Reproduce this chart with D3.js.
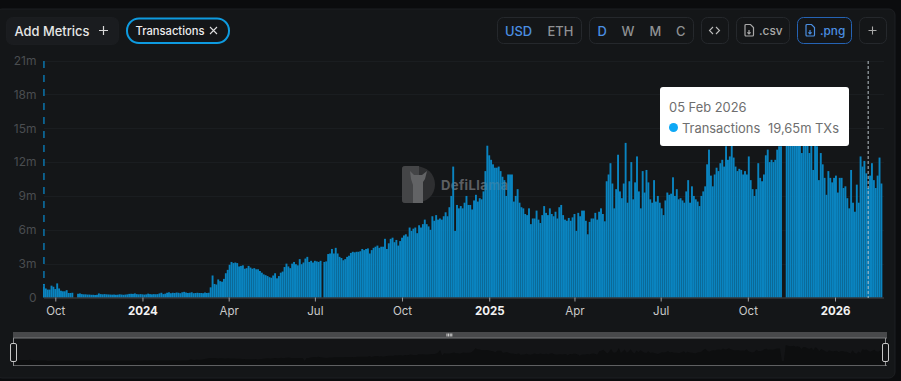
<!DOCTYPE html>
<html>
<head>
<meta charset="utf-8">
<script src="https://cdn.jsdelivr.net/npm/d3@7"></script>
<style>
  html, body { margin: 0; padding: 0; background: #0b0c0e; overflow: hidden; }
  svg { display: block; font-family: Inter, "Noto Sans", sans-serif; }
</style>
</head>
<body>
<div class="container"></div>
<script>
const WIDTH = 901;
const HEIGHT = 381;

// transactions in millions, one reading per two days
var values2023 = [1.2,0.8,0.7,0.7,1.05,0.95,0.75,1.25,0.8,0.6,0.55,0.55,0.65,0.4,0.4,0.42,0,0,
  0.33,0.36,0.3,0.28,0.28,0.26,0.26,0.24,0.24,0.22,0.24,0.36,0.3,0.28,0.3,0.28,0.27,0.26,0.25,
  0.26,0.24,0.25,0.28,0.26,0.24,0.26,0.28,0.32,0.33,0.32,0.36,0.3,0.28,0.3];
var values2024Q1 = [0.28,0.26,0.28,0.34,0.3,0.28,0.3,0.29,0.3,0.36,0.42,0.3,0.34,0.42,0.46,0.38,0.42,0.4,
  0.44,0.42,0.38,0.46,0.5,0.44,0.4,0.42,0.46,0.38,0.4,0.42,0.4,0.4,0.38,0.44,0.4,0.42,
  0.9,1.95,1.2,1.15,1.6,1.45,1.4,1.65,2.15,2.45];
var values2024Q2 = [2.9,3.15,3.05,3.1,3.05,2.75,2.8,2.85,2.55,2.6,2.8,2.65,2.55,2.6,2.5,2.5,2.35,2.2,2.05,1.98,
  1.9,1.8,1.75,1.95,2.15,1.7,1.9,2.2,2.3,2.7,3.0,2.75,2.6,3.0,3.15,2.95,2.85,3.4,2.95,3.1,3.45,3.6,3.15,3.25,3.1];
var values2024Q3 = [3.25,3.2,3.15,3.25,0,3.15,3.2,3.85,3.9,4.3,3.9,4.4,3.9,3.6,3.5,3.3,3.4,3.6,3.7,3.95,4.05,4.0,4.05,
  4.05,4.1,4.3,4.2,4.3,4.35,3.9,4.2,4.4,4.5,4.6,4.4,4.5,4.5,5.2,4.3,4.8,5.2,5.3,4.9,5.1,4.6,5.0];
var values2024Q4 = [5.3,5.5,5.6,5.4,6.2,5.9,6.1,6.2,5.7,6.4,6.2,6.5,6.9,6.5,6.3,6.0,7.2,6.8,7.3,6.9,7.0,6.9,7.2,7.55,7.2,
  8.0,9.0,11.6,5.9,8.2,7.9,8.1,7.9,8.4,9.0,8.2,8.2,7.8,8.6,9.1,8.5,8.8,8.7,9.4,11.2,13.45];
var values2025Q1 = [12.6,12.2,11.8,11.5,11.5,11.6,11.2,10.7,10.4,9.0,10.9,10.9,10.9,8.5,9.0,9.6,8.4,8.0,7.9,7.4,7.3,7.9,
  6.5,7.0,7.0,7.7,6.9,6.6,7.3,8.1,7.5,7.3,7.9,7.4,7.2,7.6,7.0,8.0,8.2,7.3,6.9,6.8,7.05,6.8,7.1];
var values2025Q2 = [7.4,5.9,7.5,7.2,7.7,7.7,6.8,5.6,6.7,7.0,7.0,7.5,6.9,7.6,7.9,7.4,6.75,10.3,10.9,11.9,10.1,7.9,9.6,12.65,
  9.4,8.8,10.1,13.7,8.4,10.3,12.0,8.7,10.2,12.5,9.4,7.9,11.2,9.3,11.3,10.2,8.7,8.4,10.4,8.5,9.0];
var values2025Q3 = [8.4,7.9,7.3,8.6,9.3,9.1,9.2,10.65,9.0,9.6,8.7,8.8,8.6,8.4,9.4,10.4,8.4,9.85,9.0,8.7,8.5,8.1,9.0,9.4,9.85,
  11.8,13.1,10.8,9.85,10.9,11.5,11.2,11.9,12.2,11.6,13.4,12.2,12.5,13.5,12.4,11.6,11.2,11.4,11.3,10.9,11.2];
var values2025Q4 = [10.9,12.5,10.4,9.6,9.0,9.6,11.9,10.6,10.3,10.9,12.6,13.1,12.0,12.2,12.0,12.2,13.1,13.4,13.4,0,0,
  17.0,16.2,15.8,15.6,16.1,15.2,15.6,14.8,12.8,15.0,14.6,13.6,12.8,14.0,11.3,14.5,13.4,10.4,12.8,11.8,10.6,9.1,11.2,10.6,10.2];
var values2026 = [10.6,10.8,9.3,10.6,10.6,9.7,9.85,8.8,7.9,11.3,8.4,7.6,10.0,8.4,12.5,11.6,12.1,11.0,9.7,10.8,11.9,10.4,9.7,10.8,12.4,10.1];

var yTicks = [0, 3, 6, 9, 12, 15, 18, 21];
var xTickDates = ['2023-10-01','2024-01-01','2024-04-01','2024-07-01','2024-10-01','2025-01-01','2025-04-01','2025-07-01','2025-10-01','2026-01-01'];
var xTickLabels = ['Oct','2024','Apr','Jul','Oct','2025','Apr','Jul','Oct','2026'];

var transactions = [].concat(values2023, values2024Q1, values2024Q2, values2024Q3, values2024Q4,
  values2025Q1, values2025Q2, values2025Q3, values2025Q4, values2026);

var parseDay = d3.utcParse('%Y-%m-%d');
var firstDay = parseDay('2023-09-19');
var points = transactions.map(function(v, i) {
    return {date: d3.utcDay.offset(firstDay, i * 2), value: v};
});

var xScale = d3.scaleUtc()
    .domain([parseDay('2023-10-01'), parseDay('2026-01-01')])
    .range([55.3, 835]);

var yScale = d3.scaleLinear()
    .domain([0, 21])
    .range([297.5, 60.5]);

var miniX = d3.scaleUtc()
    .domain([firstDay, points[points.length - 1].date])
    .range([16, 884]);

var miniY = d3.scaleLinear()
    .domain([0, 17])
    .range([361, 345]);

var translate = function(x, y) {
    return 'translate(' + x + ',' + y + ')';
};

var box = function(svg, x, y, w, h, stroke, fill) {
    svg.append('rect')
        .attr('x', x + 0.5).attr('y', y + 0.5)
        .attr('width', w).attr('height', h)
        .attr('rx', 6)
        .attr('fill', fill || 'none')
        .attr('stroke', stroke || '#25282c');
};

var label = function(svg, x, y, text, color, size, weight) {
    return svg.append('text')
        .attr('x', x).attr('y', y)
        .attr('fill', color)
        .attr('font-size', size)
        .attr('font-weight', weight || 400)
        .text(text);
};

var fileIcon = function(svg, x, y, color) {
    svg.append('path')
        .attr('transform', translate(x, y))
        .attr('d', 'M1 1.5a1 1 0 0 1 1-1h4.5l3 3v7.5a1 1 0 0 1-1 1H2a1 1 0 0 1-1-1zM5 6v4M3.4 8.4L5 10l1.6-1.6')
        .attr('fill', 'none')
        .attr('stroke', color)
        .attr('stroke-width', 1.2);
};

var drawToolbar = function(svg) {
    box(svg, 6, 17, 112, 27, '#1b1d20', '#1a1c1f');
    label(svg, 14.5, 35.5, 'Add Metrics', '#e6e6e6', 12.9, 500);
    svg.append('path')
        .attr('d', 'M99 30.5h9M103.5 26v9')
        .attr('stroke', '#d8d8d8')
        .attr('stroke-width', 1.2);

    svg.append('rect')
        .attr('x', 127).attr('y', 18.5)
        .attr('width', 102).attr('height', 24.5)
        .attr('rx', 12)
        .attr('fill', 'none')
        .attr('stroke', '#0e9be0')
        .attr('stroke-width', 2);
    label(svg, 135.5, 34.5, 'Transactions', '#ececec', 11.2, 500);
    svg.append('path')
        .attr('d', 'M210 27l7 7M217 27l-7 7')
        .attr('stroke', '#ddd')
        .attr('stroke-width', 1.1);

    box(svg, 497, 17, 84, 26);
    label(svg, 505, 35.5, 'USD', '#4b8fe2', 12.9, 500);
    label(svg, 547.5, 35.5, 'ETH', '#8f9193', 12.9, 500);

    box(svg, 589, 17, 104, 26);
    label(svg, 597.5, 35.5, 'D', '#4b8fe2', 12.9, 500);
    label(svg, 621.5, 35.5, 'W', '#8f9193', 12.9, 500);
    label(svg, 649.5, 35.5, 'M', '#8f9193', 12.9, 500);
    label(svg, 676, 35.5, 'C', '#8f9193', 12.9, 500);

    box(svg, 701, 17, 27, 26);
    svg.append('path')
        .attr('d', 'M713 27l-3.5 3.5 3.5 3.5M716 27l3.5 3.5-3.5 3.5')
        .attr('fill', 'none')
        .attr('stroke', '#bdbdbd')
        .attr('stroke-width', 1.1);

    box(svg, 736, 17, 53, 26);
    fileIcon(svg, 744, 24, '#a9a9a9');
    label(svg, 759, 35, '.csv', '#a9a9a9', 11.8, 500);

    box(svg, 797, 17, 54, 26, '#2563b4');
    fileIcon(svg, 805, 24, '#4b8fe2');
    label(svg, 820, 35, '.png', '#4b8fe2', 11.8, 500);

    box(svg, 859, 17, 27, 26);
    svg.append('path')
        .attr('d', 'M868.5 30.5h8M872.5 26.5v8')
        .attr('stroke', '#a9a9a9')
        .attr('stroke-width', 1.1);
};

var drawWatermark = function(svg) {
    var g = svg.append('g').attr('transform', translate(402, 166));
    g.append('path')
        .attr('d', 'M3 0H12C25 0 33 8 33 18.5C33 29 25 37 12 37H3Q0 37 0 34V3Q0 0 3 0Z')
        .attr('fill', '#2e2f31');
    g.append('path')
        .attr('d', 'M3 0H17V37H3Q0 37 0 34V3Q0 0 3 0Z')
        .attr('fill', '#444547');
    g.append('path')
        .attr('d', 'M8 5L12 9H20L25 5L23 13L21 16V37H11V19L9 13Z')
        .attr('fill', '#626365');
    svg.append('text')
        .attr('x', 441).attr('y', 190)
        .attr('fill', '#4f5154')
        .attr('font-size', 13)
        .attr('font-weight', 700)
        .attr('letter-spacing', 0.4)
        .text('DefiLlama');
};

var drawSlider = function(svg) {
    svg.append('rect').attr('x', 13).attr('y', 332).attr('width', 874).attr('height', 6).attr('fill', '#48494b');
    svg.selectAll('.grip').data([0, 1, 2, 3]).enter().append('rect')
        .attr('x', function(d) { return 446.5 + d * 1.6; })
        .attr('y', 333.5).attr('width', 1).attr('height', 3)
        .attr('fill', '#d8d8d8');
    svg.append('rect').attr('x', 13).attr('y', 338).attr('width', 874).attr('height', 28).attr('fill', '#131416');

    var miniArea = d3.area()
        .x(function(d) { return miniX(d.date); })
        .y0(365)
        .y1(function(d) { return miniY(d.value); });
    svg.append('path').datum(points)
        .attr('d', miniArea)
        .attr('fill', '#0d0e0f');

    svg.append('line').attr('x1', 13).attr('x2', 887).attr('y1', 338).attr('y2', 338).attr('stroke', '#77787a');
    svg.append('line').attr('x1', 13).attr('x2', 887).attr('y1', 365.5).attr('y2', 365.5).attr('stroke', '#5f6062');

    [13.5, 885.5].forEach(function(x) {
        svg.append('line').attr('x1', x).attr('x2', x).attr('y1', 338).attr('y2', 366).attr('stroke', '#8a8b8d');
        svg.append('rect')
            .attr('x', x - 3).attr('y', 343.5).attr('width', 6).attr('height', 18).attr('rx', 1.5)
            .attr('fill', '#131416').attr('stroke', '#c8c8c8');
    });
};

var drawTooltip = function(svg) {
    svg.append('rect')
        .attr('x', 660).attr('y', 87).attr('width', 189).attr('height', 59).attr('rx', 3)
        .attr('fill', '#ffffff');
    label(svg, 669, 112, '05 Feb 2026', '#6e6e6e', 12.9);
    svg.append('circle').attr('cx', 673.5).attr('cy', 127.5).attr('r', 4.5).attr('fill', '#0ea8f5');
    label(svg, 682, 132.5, 'Transactions', '#6e6e6e', 12.9);
    label(svg, 768, 132.5, '19,65m TXs', '#6e6e6e', 12.9);
};

var visualize = function() {
    var svg = d3.select('.container').append('svg')
        .attr('width', WIDTH)
        .attr('height', HEIGHT);

    svg.append('rect')
        .attr('x', -4).attr('y', 9)
        .attr('width', 899).attr('height', 369)
        .attr('rx', 6)
        .attr('fill', '#141618')
        .attr('stroke', '#1d1f22');

    drawToolbar(svg);

    var yAxis = d3.axisLeft(yScale)
        .tickValues(yTicks)
        .tickSize(0)
        .tickPadding(0)
        .tickFormat(function(d) { return d === 0 ? '0' : d + 'm'; });

    var yGroup = svg.append('g')
        .attr('transform', translate(36.5, 0))
        .call(yAxis);
    yGroup.select('.domain').remove();
    yGroup.selectAll('text')
        .attr('fill', '#4a4d50')
        .attr('font-family', 'Inter')
        .attr('font-size', 12);

    svg.selectAll('.grid').data(yTicks.slice(1)).enter().append('line')
        .attr('x1', 44).attr('x2', 884)
        .attr('y1', function(d) { return Math.round(yScale(d)) + 0.5; })
        .attr('y2', function(d) { return Math.round(yScale(d)) + 0.5; })
        .attr('stroke', '#1a1d20');

    drawWatermark(svg);

    var barWidth = xScale(d3.utcDay.offset(firstDay, 2)) - xScale(firstDay);
    svg.selectAll('.bar').data(points).enter().append('rect')
        .attr('class', 'bar')
        .attr('x', function(d) { return xScale(d.date) - barWidth / 2; })
        .attr('y', function(d) { return yScale(d.value); })
        .attr('width', barWidth)
        .attr('height', function(d) { return yScale(0) - yScale(d.value); })
        .attr('fill', '#0a84c0');

    // watermark shows faintly through the bars
    svg.append('text')
        .attr('x', 441).attr('y', 190)
        .attr('fill', '#8a8c8f')
        .attr('fill-opacity', 0.25)
        .attr('font-size', 13)
        .attr('font-weight', 700)
        .attr('letter-spacing', 0.4)
        .text('DefiLlama');

    svg.append('line')
        .attr('x1', xScale(firstDay)).attr('x2', xScale(firstDay))
        .attr('y1', 61).attr('y2', 287)
        .attr('stroke', '#0b6fa3')
        .attr('stroke-width', 1.6)
        .attr('stroke-dasharray', '7 7');

    var xAxis = d3.axisBottom(xScale)
        .tickValues(xTickDates.map(parseDay))
        .tickSize(4)
        .tickPadding(5)
        .tickFormat(function(d, i) { return xTickLabels[i]; });

    var xGroup = svg.append('g')
        .attr('transform', translate(0, 297.5))
        .call(xAxis);
    xGroup.select('.domain').attr('stroke', '#44474a').attr('d', 'M44,0.5H884');
    xGroup.selectAll('line').attr('stroke', '#9a9b9d');
    xGroup.selectAll('text')
        .attr('fill', function(d, i) { return /^20/.test(xTickLabels[i]) ? '#f2f2f2' : '#c9c9c9'; })
        .attr('font-weight', function(d, i) { return /^20/.test(xTickLabels[i]) ? 700 : 400; })
        .attr('font-family', 'Inter')
        .attr('font-size', 11.5);

    var hoverDay = parseDay('2026-02-05');
    svg.append('line')
        .attr('x1', xScale(hoverDay)).attr('x2', xScale(hoverDay))
        .attr('y1', 61).attr('y2', 298)
        .attr('stroke', '#b9c2c8')
        .attr('stroke-dasharray', '3 2');

    drawTooltip(svg);
    drawSlider(svg);
};

window.onload = visualize;
</script>
</body>
</html>
